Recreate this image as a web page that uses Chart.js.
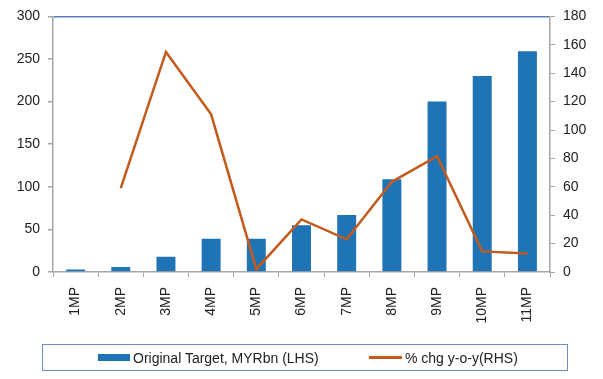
<!DOCTYPE html>
<html>
<head>
<meta charset="utf-8">
<script src="https://cdn.jsdelivr.net/npm/chart.js@4/dist/chart.umd.min.js"></script>
<style>
  html, body { margin: 0; padding: 0; background: #fff; }
  #wrap { position: relative; width: 603px; height: 379px; }
  #c { position: absolute; left: 0; top: 0; }
  #legend {
    position: absolute; left: 42px; top: 344px; width: 524px; height: 25px;
    border: 1.5px solid #6f8cbf; box-sizing: content-box;
    font-family: "Liberation Sans", Arial, sans-serif; font-size: 14px; color: #222;
  }
  .item { position: absolute; top: 0; height: 25px; display: flex; align-items: center; white-space: nowrap; }
  .sw-bar { width: 32px; height: 7px; background: #1f74b5; margin-right: 3px; }
  .sw-line { width: 33px; height: 3px; background: #c45a1c; margin-right: 3px; }
</style>
</head>
<body>
<div id="wrap">
  <canvas id="c" width="603" height="379"></canvas>
  <div id="legend">
    <div class="item" style="left:55px"><span class="sw-bar"></span><span id="l1"></span></div>
    <div class="item" style="left:326px"><span class="sw-line"></span><span id="l2"></span></div>
  </div>
</div>
<script>
const categories = ["1MP","2MP","3MP","4MP","5MP","6MP","7MP","8MP","9MP","10MP","11MP"];
const targetValues = [3, 6, 18, 39, 39, 55, 67, 109, 200, 230, 259];
const chgValues = [null, 59, 155, 111, 2, 37, 23, 63.5, 81.5, 14.5, 13];
const leftTicks = [0, 50, 100, 150, 200, 250, 300];
const rightTicks = [0, 20, 40, 60, 80, 100, 120, 140, 160, 180];
const seriesNames = ["Original Target, MYRbn (LHS)", "% chg y-o-y(RHS)"];

document.getElementById('l1').textContent = seriesNames[0];
document.getElementById('l2').textContent = seriesNames[1];

const font = { family: '"Liberation Sans", Arial, sans-serif', size: 14 };
const gray = '#a6a6a6';

new Chart(document.getElementById('c'), {
  type: 'bar',
  data: {
    labels: categories,
    datasets: [
      {
        type: 'line',
        label: seriesNames[1],
        data: chgValues,
        yAxisID: 'y2',
        borderColor: '#c45a1c',
        backgroundColor: '#c45a1c',
        borderWidth: 2.5,
        pointRadius: 0,
        tension: 0,
        spanGaps: false,
        order: 0
      },
      {
        type: 'bar',
        label: seriesNames[0],
        data: targetValues,
        yAxisID: 'y',
        backgroundColor: '#1f74b5',
        barPercentage: 0.5,
        categoryPercentage: 0.84,
        order: 1
      }
    ]
  },
  options: {
    responsive: false,
    animation: false,
    layout: { padding: { top: 12, left: 0, right: 0, bottom: 0 } },
    plugins: { legend: { display: false }, tooltip: { enabled: false } },
    scales: {
      x: {
        offset: true,
        grid: { display: true, drawOnChartArea: false, tickLength: 5, color: gray, tickColor: gray, offset: true },
        border: { display: true, color: gray, width: 1.5 },
        ticks: { font: font, color: '#222', minRotation: 90, maxRotation: 90, padding: 10, autoSkip: false },
        afterFit: (s) => { s.height = 107; }
      },
      y: {
        position: 'left',
        min: 0, max: 300,
        afterBuildTicks: (s) => { s.ticks = leftTicks.map(v => ({ value: v })); },
        grid: {
          drawOnChartArea: true,
          tickLength: 5,
          color: (ctx) => (ctx.tick && ctx.tick.value === 300) ? '#5d7cb6' : 'transparent',
          tickColor: gray,
          lineWidth: 1.5
        },
        border: { display: true, color: gray, width: 1.5 },
        ticks: { font: font, color: '#222', padding: 8 },
        afterFit: (s) => { s.width = 53; }
      },
      y2: {
        position: 'right',
        min: 0, max: 180,
        afterBuildTicks: (s) => { s.ticks = rightTicks.map(v => ({ value: v })); },
        grid: { drawOnChartArea: false, tickLength: 5, color: gray, tickColor: gray },
        border: { display: true, color: gray, width: 1.5 },
        ticks: { font: font, color: '#222', padding: 8 },
        afterFit: (s) => { s.width = 53; }
      }
    }
  }
});
</script>
</body>
</html>
